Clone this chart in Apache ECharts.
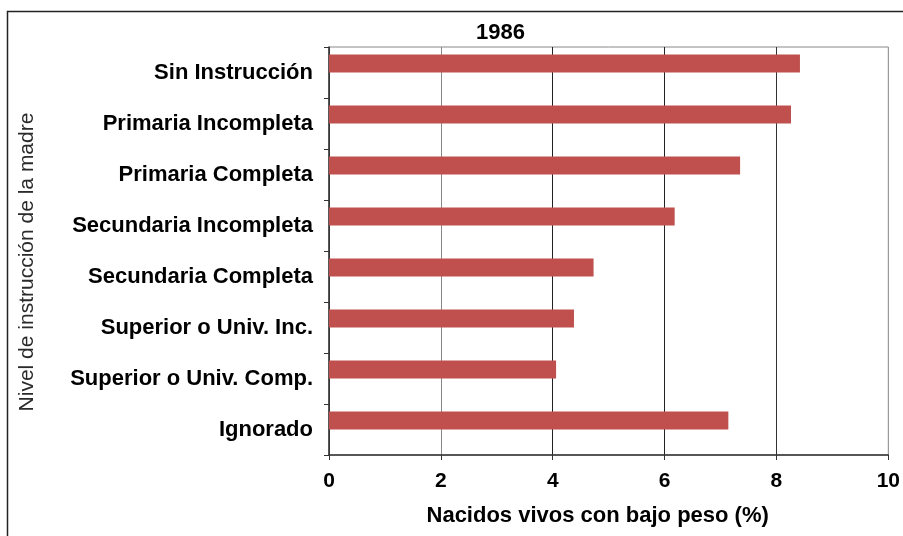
<!DOCTYPE html>
<html>
<head>
<meta charset="utf-8">
<script src="https://cdn.jsdelivr.net/npm/echarts@6/dist/echarts.min.js"></script>
<style>
  html, body { margin: 0; padding: 0; background: #fff; }
  #chart { width: 903px; height: 536px; }
</style>
</head>
<body>
<div id="chart"></div>
<script>
var categorias = [
    'Sin Instrucción',
    'Primaria Incompleta',
    'Primaria Completa',
    'Secundaria Incompleta',
    'Secundaria Completa',
    'Superior o Univ. Inc.',
    'Superior o Univ. Comp.',
    'Ignorado'
];
var valores1986 = [8.42, 8.26, 7.35, 6.18, 4.73, 4.38, 4.06, 7.14];
var ticksX = [0, 2, 4, 6, 8, 10];

var font = '"Liberation Sans", Arial, sans-serif';
var myChart = echarts.init(document.getElementById('chart'));

var option = {
    backgroundColor: '#fff',
    animation: false,
    graphic: [{
        type: 'rect',
        z: -10,
        shape: { x: 7.5, y: 11.5, width: 1200, height: 800 },
        style: { fill: 'none', stroke: '#222', lineWidth: 1.5 }
    }],
    title: {
        text: '1986',
        left: 471,
        top: 17,
        textStyle: { fontFamily: font, fontSize: 22, fontWeight: 'bold', color: '#000' }
    },
    grid: {
        left: 329, right: 10, top: 47, bottom: 81,
        show: true, borderColor: '#888', borderWidth: 1
    },
    xAxis: {
        type: 'value',
        min: ticksX[0],
        max: ticksX[ticksX.length - 1],
        interval: 2,
        name: 'Nacidos vivos con bajo peso (%)',
        nameLocation: 'middle',
        nameGap: 50,
        nameTextStyle: { fontFamily: font, fontSize: 22, fontWeight: 'bold', color: '#000', padding: [0, 22, 0, 0] },
        axisLine: { show: true, lineStyle: { color: '#333', width: 1.5 } },
        axisTick: { show: true, inside: false, length: 5, lineStyle: { color: '#333' } },
        axisLabel: { margin: 16, fontFamily: font, fontSize: 21, fontWeight: 'bold', color: '#000' },
        splitLine: { show: true, lineStyle: { color: ['#444', '#888', '#222', '#222', '#333', '#999'], width: 1 } }
    },
    yAxis: {
        type: 'category',
        inverse: true,
        data: categorias,
        name: 'Nivel de instrucción de la madre',
        nameLocation: 'middle',
        nameRotate: 90,
        nameGap: 291,
        nameTextStyle: { fontFamily: font, fontSize: 21, color: '#2a2a2a', padding: [0, 22, 0, 0] },
        axisLine: { show: true, lineStyle: { color: '#333', width: 1.5 } },
        axisTick: { show: true, inside: false, length: 5, alignWithLabel: false, lineStyle: { color: '#333' } },
        axisLabel: { margin: 16, fontFamily: font, fontSize: 22, fontWeight: 'bold', color: '#000' },
        splitLine: { show: false }
    },
    series: [{
        name: '1986',
        type: 'bar',
        data: valores1986,
        barWidth: 18,
        barGap: '0%',
        itemStyle: { color: '#C0504D' }
    }, {
        name: 'vacío',
        type: 'bar',
        data: [],
        barWidth: 18,
        barGap: '0%'
    }]
};

myChart.setOption(option);
window.addEventListener('resize', function () {
    myChart.resize();
});
</script>
</body>
</html>
